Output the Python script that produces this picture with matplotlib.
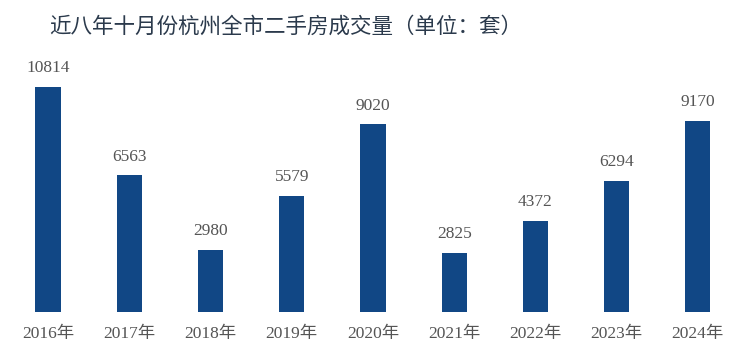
import matplotlib
matplotlib.use('Agg')
import matplotlib.pyplot as plt

# 近八年十月份杭州全市二手房成交量
years = ['2016年', '2017年', '2018年', '2019年', '2020年', '2021年', '2022年', '2023年', '2024年']
volumes = [10814, 6563, 2980, 5579, 9020, 2825, 4372, 6294, 9170]

bar_color = '#114785'
text_color = '#555555'
num_font = ['Liberation Serif', 'Noto Sans CJK SC']

fig = plt.figure(figsize=(7.37, 3.54), dpi=100)
ax = fig.add_axes([0.010, 0.1186, 0.992, 0.7684])

x = range(len(years))
ax.bar(x, volumes, width=0.31, color=bar_color)
for xi, v in zip(x, volumes):
    ax.text(xi, v + 520, str(v), ha='center', va='bottom',
            fontsize=12.5, color=text_color, family=num_font)

ax.set_xlim(-0.5, len(years) - 0.5)
ax.set_ylim(0, 13073)
ax.set_xticks(list(x))
ax.set_xticklabels(years, family=num_font, fontsize=12.5, color=text_color)
ax.tick_params(axis='x', length=0, pad=10)
ax.set_yticks([])
for s in ax.spines.values():
    s.set_visible(False)

fig.text(0.067, 0.925, '近八年十月份杭州全市二手房成交量（单位：套）',
         fontsize=15.5, color='#2b3a4c', family=['Noto Sans CJK SC'],
         ha='left', va='center')

fig.savefig('out.png', dpi=100)
